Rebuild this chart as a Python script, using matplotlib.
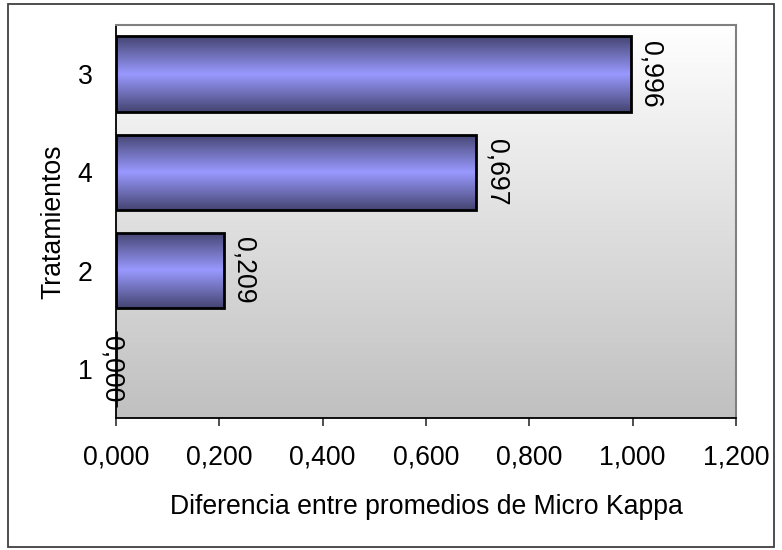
import numpy as np
import matplotlib
matplotlib.use("Agg")
import matplotlib.pyplot as plt
from matplotlib.colors import LinearSegmentedColormap
from matplotlib.patches import Rectangle

plt.rcParams['font.family'] = ['Liberation Sans', 'DejaVu Sans']

# Data: treatments ordered bottom-to-top
categories = ["1", "2", "4", "3"]
values = [0.000, 0.209, 0.697, 0.996]
value_labels = ["0,000", "0,209", "0,697", "0,996"]
xticks = [0.0, 0.2, 0.4, 0.6, 0.8, 1.0, 1.2]
xtick_labels = ["0,000", "0,200", "0,400", "0,600", "0,800", "1,000", "1,200"]
xlabel = "Diferencia entre promedios de Micro Kappa"
ylabel = "Tratamientos"

FS = 19.2
W, H = 782, 550
fig = plt.figure(figsize=(W / 100, H / 100), dpi=100)
ax = fig.add_axes([116 / W, 1 - 418 / H, (736 - 116) / W, (418 - 25) / H])

# Outer chart border
fig.patches.append(Rectangle((8 / W, 3 / H), (774 - 8) / W, (546 - 3) / H,
                             transform=fig.transFigure, fill=False,
                             edgecolor="#404040", linewidth=1.3))

ypos = np.arange(len(categories))
ax.set_xlim(0, 1.2)
ax.set_ylim(-0.5, len(categories) - 0.5)

# Plot area background: vertical gradient white -> gray
bg_cmap = LinearSegmentedColormap.from_list("bg", ["#c0c0c0", "#ffffff"])
grad = np.linspace(0, 1, 256).reshape(-1, 1)
ax.imshow(grad, cmap=bg_cmap, aspect="auto", origin="lower",
          extent=(0, 1.2, -0.5, len(categories) - 0.5), zorder=0)

# Bars with vertical shading (dark edges, light middle)
bar_cmap = LinearSegmentedColormap.from_list(
    "bar", [(0.0, "#444472"), (0.22, "#6a6ab0"), (0.5, "#9999ff"),
            (0.78, "#6a6ab0"), (1.0, "#444472")])
bar_h = 0.77
bars = ax.barh(ypos, values, height=bar_h, color="none",
               edgecolor="black", linewidth=2.0, zorder=3)
for b, v in zip(bars, values):
    if v <= 0:
        continue
    y0 = b.get_y()
    img = ax.imshow(grad, cmap=bar_cmap, aspect="auto", origin="lower",
                    extent=(0, v, y0, y0 + bar_h), zorder=2)
    img.set_clip_path(b)

# Value labels, rotated
for y, v, lab in zip(ypos, values, value_labels):
    if v <= 0:
        ax.annotate(lab, (v, y), xytext=(-3, 0), textcoords="offset points",
                    rotation=270, ha="center", va="center", fontsize=FS,
                    zorder=5, annotation_clip=False)
    else:
        ax.annotate(lab, (v, y), xytext=(5, 0), textcoords="offset points",
                    rotation=270, ha="left", va="center", fontsize=FS,
                    zorder=5)

ax.set_yticks(ypos)
ax.set_yticklabels(categories, fontsize=FS)
ax.set_xticks(xticks)
ax.set_xticklabels(xtick_labels, fontsize=FS)
ax.tick_params(axis="y", length=0, pad=17)
ax.tick_params(axis="x", length=6, width=1.2, direction="out", pad=13, color="#303030")

ax.set_xlabel(xlabel, fontsize=FS, labelpad=17)
ax.set_ylabel(ylabel, fontsize=FS, labelpad=8)

for side in ["left", "bottom"]:
    ax.spines[side].set_color("black")
    ax.spines[side].set_linewidth(1.3)
for side in ["top", "right"]:
    ax.spines[side].set_color("#808080")
    ax.spines[side].set_linewidth(1.5)

fig.savefig("out.png", dpi=100)
